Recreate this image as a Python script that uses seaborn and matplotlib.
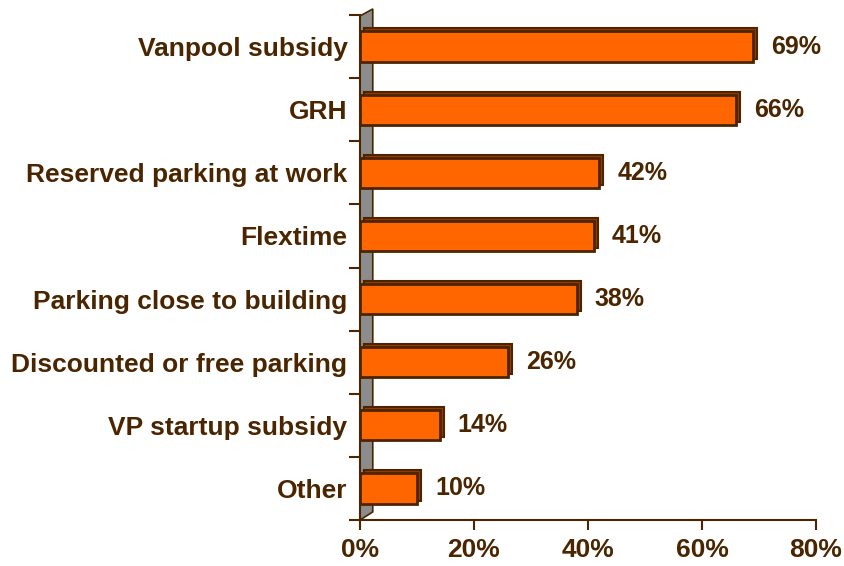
import numpy as np
import pandas as pd
import matplotlib
matplotlib.use("Agg")
import matplotlib.pyplot as plt
import matplotlib.transforms as mtransforms
from matplotlib.patches import Polygon, Rectangle
import seaborn as sns

# data
categories = ['Vanpool subsidy', 'GRH', 'Reserved parking at work', 'Flextime',
              'Parking close to building', 'Discounted or free parking',
              'VP startup subsidy', 'Other']
shares = [69, 66, 42, 41, 38, 26, 14, 10]
x_ticks = [0, 20, 40, 60, 80]

df = pd.DataFrame({'item': categories, 'share': shares})

brown = '#4A2500'
orange = '#FF6600'
side = '#9A3A00'

sns.set_style('white')
plt.rcParams['font.family'] = ['Liberation Sans', 'DejaVu Sans']

fig = plt.figure(figsize=(8.45, 5.66), dpi=100)
ax = fig.add_axes([360 / 845, 46 / 566, 456 / 845, 505 / 566])

sns.barplot(data=df, y='item', x='share', orient='h', color=orange,
            edgecolor=brown, linewidth=2, width=0.48, saturation=1, ax=ax, zorder=3)

# 3d depth: dark copy of each bar pushed up-right behind the front face
depth = mtransforms.ScaledTranslation(4 / 100, 3 / 100, fig.dpi_scale_trans)
for p in list(ax.patches):
    back = Rectangle(p.get_xy(), p.get_width(), p.get_height(), facecolor=side,
                     edgecolor=brown, linewidth=1.5, zorder=2,
                     transform=ax.transData + depth)
    ax.add_patch(back)

# grey wall on the left
wall = Polygon([(0, 0), (0.028, 0.016), (0.028, 1.012), (0, 0.998)], closed=True,
               facecolor='#8C8C8C', edgecolor=brown, linewidth=1.2,
               transform=ax.transAxes, zorder=1, clip_on=False)
ax.add_patch(wall)

for v, y in zip(shares, range(len(shares))):
    ax.annotate(f'{v}%', xy=(v, y), xytext=(13, 0), textcoords='offset points',
                ha='left', va='center', fontsize=18, fontweight='bold', color=brown)

ax.set_xlim(0, 80)
ax.set_ylim(len(categories) - 0.5, -0.5)
ax.set_xticks(x_ticks)
ax.set_xticklabels([f'{t}%' for t in x_ticks], fontsize=19, fontweight='bold', color=brown)
ax.set_yticks(np.arange(len(categories)))
ax.set_yticklabels(categories, fontsize=19, fontweight='bold', color=brown)
ax.set_yticks(np.arange(len(categories) + 1) - 0.5, minor=True)
ax.tick_params(axis='y', which='major', left=False, length=0, pad=9)
ax.tick_params(axis='y', which='minor', left=True, length=8, width=1.5, color=brown, direction='out')
ax.tick_params(axis='x', bottom=True, length=7, width=1.5, color=brown, direction='out', pad=6)
ax.set_xlabel('')
ax.set_ylabel('')
for s in ['top', 'right']:
    ax.spines[s].set_visible(False)
for s in ['left', 'bottom']:
    ax.spines[s].set_color(brown)
    ax.spines[s].set_linewidth(1.5)
ax.grid(False)

fig.savefig('out.png', dpi=100, facecolor='white')
